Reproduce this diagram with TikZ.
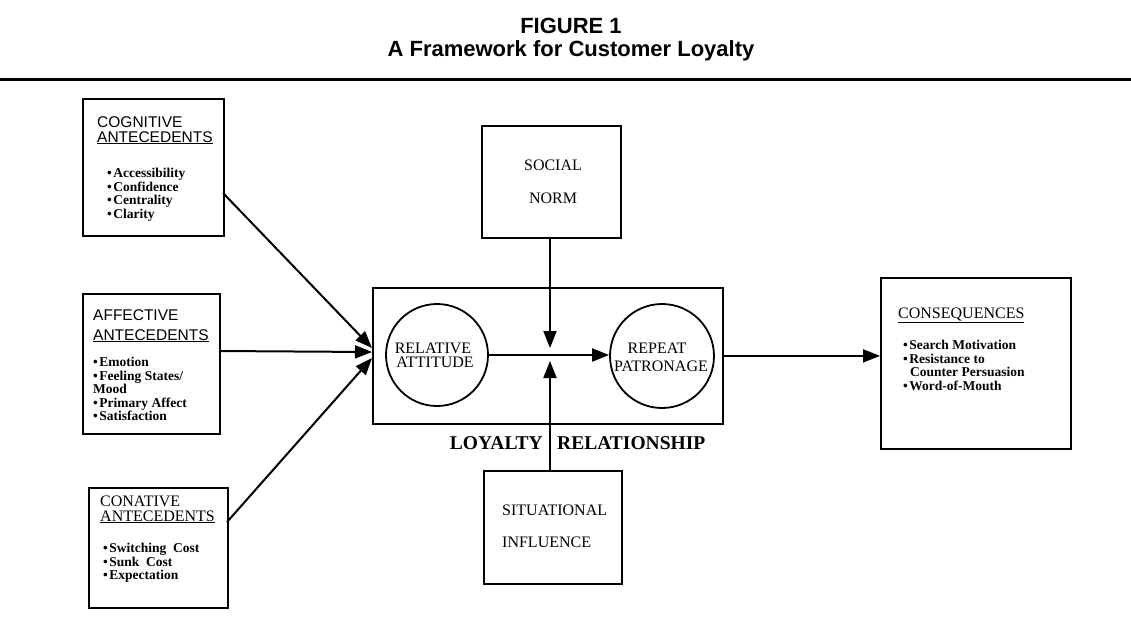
\documentclass[tikz,border=0pt]{standalone}
\usepackage{fontspec}
\setmainfont{Liberation Serif}
\newfontfamily\hsans{Liberation Sans}
\usetikzlibrary{arrows.meta}
\tikzset{
  box/.style={draw, line width=1.8pt, inner sep=0pt},
  txt/.style={inner sep=0pt, align=left, anchor=north west},
  lbl/.style={inner sep=0pt},
  bul/.style={txt, font=\bfseries\fontsize{13.5}{13.6}\selectfont},
  hdsans/.style={txt, font=\hsans\fontsize{15.5}{15}\selectfont},
  hdser/.style={lbl, font=\fontsize{16}{16}\selectfont},
  arr/.style={line width=2pt, -{Triangle[length=17pt,width=13pt]}},
  ttl/.style={lbl, font=\hsans\bfseries\fontsize{22}{22}\selectfont}
}
\newcommand{\bl}{\textbullet\hspace{1.5pt}}
\begin{document}
\begin{tikzpicture}[x=1pt,y=-1pt]
\useasboundingbox (0,0) rectangle (1131,633);
% title
\node[ttl, anchor=base] (t1) at (571,33) {FIGURE 1};
\node[ttl, anchor=base] (t2) at (571,56) {A Framework for Customer Loyalty};
\draw[line width=3pt] (0,79) -- (1131,79);

% cognitive
\node[box, anchor=north west, minimum width=141pt, minimum height=137pt] (cog) at (82,98) {};
\node[hdsans] (cogh) at (97,116) {COGNITIVE\\\underline{ANTECEDENTS}};
\node[bul] (cogb) at (107,168) {\bl Accessibility\\\bl Confidence\\\bl Centrality\\\bl Clarity};

% affective
\node[box, anchor=north west, minimum width=137pt, minimum height=140pt] (aff) at (82,293) {};
\node[hdsans, font=\hsans\fontsize{15.5}{20}\selectfont] (affh) at (93,309) {AFFECTIVE\\\underline{ANTECEDENTS}};
\node[bul] (affb) at (93,357) {\bl Emotion\\\bl Feeling States/\\Mood\\\bl Primary Affect\\\bl Satisfaction};

% conative
\node[box, anchor=north west, minimum width=139pt, minimum height=120pt] (con) at (88,487) {};
\node[hdser, anchor=base west] (conh1) at (100,506) {CONATIVE};
\node[hdser, anchor=base west] (conh2) at (100,521) {\underline{ANTECEDENTS}};
\node[bul] (conb) at (103,543) {\bl Switching\ \ Cost\\\bl Sunk\ \ Cost\\\bl Expectation};

% loyalty relationship box
\node[box, anchor=north west, minimum width=350pt, minimum height=136pt] (loy) at (372,287) {};
\node[circle, draw, line width=1.8pt, minimum size=102pt, inner sep=0pt] (ra) at (437,355) {};
\node[circle, draw, line width=1.8pt, minimum size=104pt, inner sep=0pt] (rp) at (662,356) {};
\node[hdser, anchor=base] (ra1) at (433,353) {RELATIVE};
\node[hdser, anchor=base] (ra2) at (435,367) {ATTITUDE};
\node[hdser, anchor=base] (rp1) at (657,353) {REPEAT};
\node[hdser, anchor=base] (rp2) at (661,371) {PATRONAGE};
\node[lbl, anchor=base east, font=\bfseries\fontsize{19.5}{19.5}\selectfont] (ly1) at (543,449) {LOYALTY};
\node[lbl, anchor=base west, font=\bfseries\fontsize{19.5}{19.5}\selectfont] (ly2) at (557,449) {RELATIONSHIP};

% social norm
\node[box, anchor=north west, minimum width=139pt, minimum height=112pt] (soc) at (481,125) {};
\node[hdser, anchor=base] (soc1) at (553,170) {SOCIAL};
\node[hdser, anchor=base] (soc2) at (553,203) {NORM};

% situational influence
\node[box, anchor=north west, minimum width=138pt, minimum height=113pt] (sit) at (483,470) {};
\node[hdser, anchor=base west] (sit1) at (502,515) {SITUATIONAL};
\node[hdser, anchor=base west] (sit2) at (502,547) {INFLUENCE};

% consequences
\node[box, anchor=north west, minimum width=190pt, minimum height=171pt] (cons) at (880,277) {};
\node[hdser, anchor=base west] (consh) at (898,318) {\underline{CONSEQUENCES}};
\node[bul] (consb) at (903,340) {\bl Search Motivation\\\bl Resistance to\\\hspace{7pt}Counter Persuasion\\\bl Word-of-Mouth};

% connector end points
\coordinate (cogout) at (223,193);
\coordinate (affout) at (219,351);
\coordinate (conout) at (227,522);
\coordinate (tipA) at (372,348);
\coordinate (tipB) at (372,352);
\coordinate (tipC) at (372,358);
\coordinate (jt) at (550,348);
\coordinate (jb) at (550,361);

\draw[arr] (cogout) -- (tipA);
\draw[arr] (affout) -- (tipB);
\draw[arr] (conout) -- (tipC);
\draw[arr] (ra.east) -- (rp.west |- ra.east);
\draw[arr] (soc.south -| jt) -- (jt);
\draw[arr] (sit.north -| jb) -- (jb);
\draw[arr] (loy.east) -- (loy.east -| cons.west);
\end{tikzpicture}
\end{document}
